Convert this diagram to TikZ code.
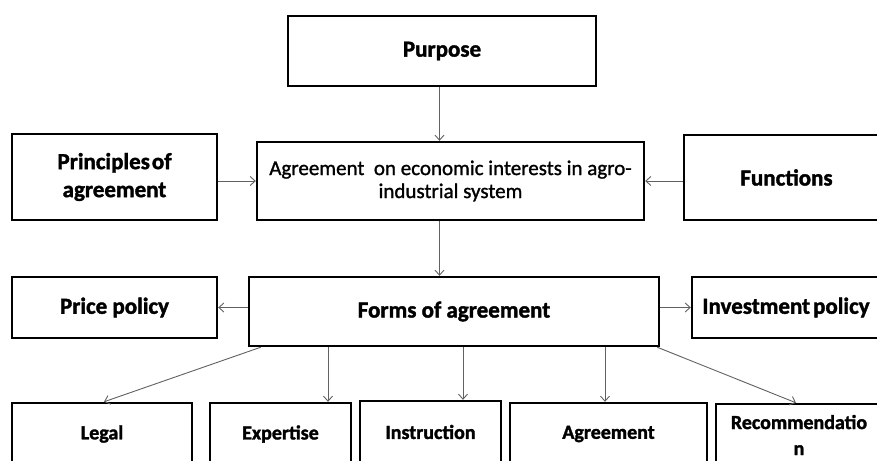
\documentclass[tikz,border=0pt]{standalone}
\usepackage{fontspec}
\setmainfont{Carlito}[BoldFeatures={FakeBold=1.6}]
\newfontfamily\corefont{Carlito}[FakeBold=1.2]
\usetikzlibrary{arrows.meta}
\begin{document}
\begin{tikzpicture}[x=1pt,y=-1pt,
  box/.style={draw=black,line width=2.4pt,inner sep=0pt,align=center,
    font=\bfseries\fontsize{23}{28}\selectfont},
  lowbox/.style={box,minimum height=62pt,font=\bfseries\fontsize{20}{26}\selectfont},
  arr/.style={draw=black!62,line width=0.9pt,-{Straight Barb[length=5pt,width=9pt,line width=0.9pt]}}]
\clip (0,0) rectangle (877,460);
\fill[white] (0,0) rectangle (877,460);
% top rows
\node[box,minimum width=308pt,minimum height=70pt] (purpose) at (442,51) {Purpose};
\node[box,minimum width=205pt,minimum height=86pt] (principles) at (114.5,177) {Principles\kern2pt of\\agreement};
\node[box,minimum width=387pt,minimum height=78pt,font=\corefont\fontsize{21}{23}\selectfont] (core) at (450.5,181)
  {Agreement\ \ on economic interests in agro-\\industrial system};
\node[box,minimum width=205pt,minimum height=85pt] (functions) at (786.5,177.5) {Functions};
% middle row
\node[box,minimum width=205pt,minimum height=61pt] (price) at (114.5,307.5) {Price policy};
\node[box,minimum width=410pt,minimum height=69pt] (forms) at (454,311.5) {Forms of agreement};
\node[box,minimum width=188pt,minimum height=61pt] (invest) at (786,307.5) {Investment\kern3pt policy};
% bottom row
\node[lowbox,minimum width=180pt] (legal) at (102,434) {Legal};
\node[lowbox,minimum width=141pt] (expertise) at (280.5,434) {Expertise};
\node[lowbox,minimum width=141pt] (instruction) at (430.5,432) {Instruction};
\node[lowbox,minimum width=197pt] (agreement) at (608.5,434) {Agreement};
\node[lowbox,minimum width=166pt] (recommend) at (799,435) {Recommendatio\\n};
% axis helpers
\coordinate (ax) at (439.5,0);
\coordinate (axE) at (328,0);
\coordinate (axI) at (463,0);
\coordinate (axA) at (605,0);
% connectors
\draw[arr] (purpose.south -| ax) -- (core.north -| ax);
\draw[arr] (principles.east |- core.west) -- (core.west);
\draw[arr] (functions.west |- core.east) -- (core.east);
\draw[arr] (core.south -| ax) -- (forms.north -| ax);
\draw[arr] (forms.west |- price.east) -- (price.east);
\draw[arr] (forms.east |- invest.west) -- (invest.west);
\draw[arr] ([xshift=13pt]forms.south west) -- ([xshift=2pt]legal.north);
\draw[arr] (forms.south -| axE) -- (expertise.north -| axE);
\draw[arr] (forms.south -| axI) -- (instruction.north -| axI);
\draw[arr] (forms.south -| axA) -- (agreement.north -| axA);
\draw[arr] ([xshift=-3pt]forms.south east) -- ([xshift=-3pt]recommend.north);
\end{tikzpicture}
\end{document}
